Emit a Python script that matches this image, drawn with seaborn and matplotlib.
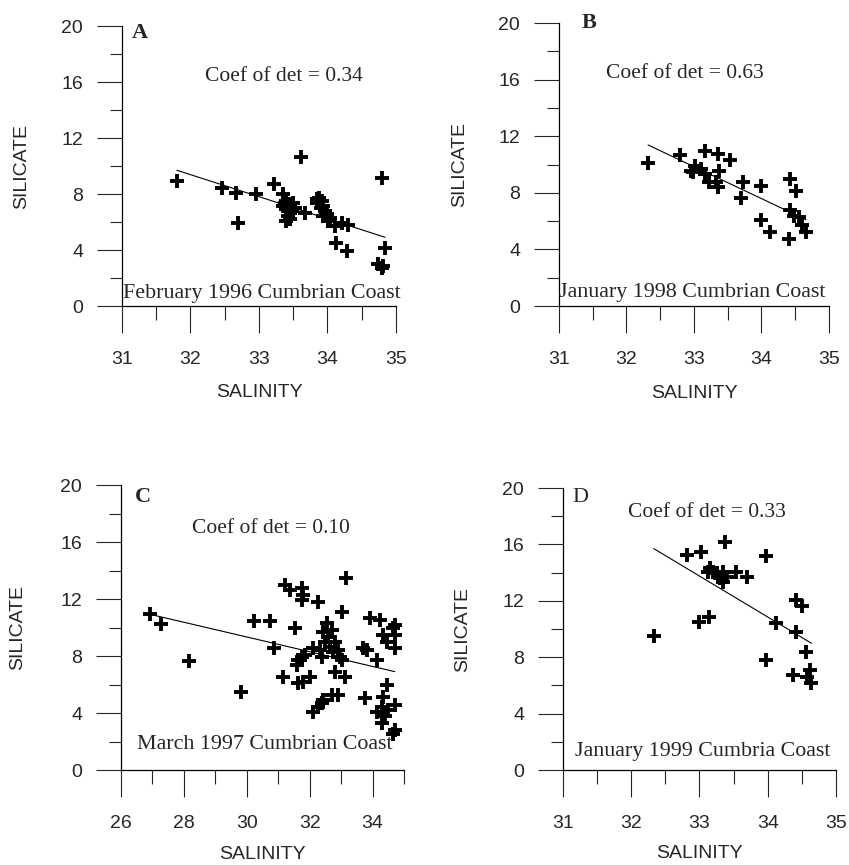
import numpy as np
import pandas as pd
import matplotlib
matplotlib.use('Agg')
import matplotlib.pyplot as plt
import matplotlib.ticker as mtick
import seaborn as sns

########################################################################
# data (salinity vs silicate)
sal_A = [31.80, 32.46, 32.67, 32.70, 32.95, 33.22, 33.35, 33.40, 33.38, 33.45, 33.50, 33.40, 33.48, 33.43,
         33.40, 33.53, 33.35, 33.45, 33.61, 33.67, 33.87, 33.92, 33.84, 33.94, 33.90, 33.96, 33.99, 33.94,
         34.04, 34.01, 33.84, 34.11, 34.21, 34.30, 34.12, 34.29, 34.80, 34.84, 34.74, 34.79, 34.81]
sil_A = [8.93, 8.45, 8.10, 5.95, 7.98, 8.69, 7.98, 7.50, 7.38, 7.26, 7.38, 6.90, 6.79, 6.43,
         6.07, 7.02, 7.14, 6.20, 10.64, 6.67, 7.74, 7.50, 7.38, 7.14, 7.02, 6.79, 6.55, 6.43,
         6.31, 6.07, 7.62, 5.71, 5.95, 5.79, 4.52, 3.93, 9.17, 4.17, 2.98, 2.74, 2.86]

sal_B = [32.32, 32.80, 33.17, 33.36, 33.53, 33.01, 32.95, 33.10, 33.16, 32.99, 33.37, 33.23, 33.36, 33.33,
         33.73, 33.70, 33.99, 34.42, 34.51, 34.42, 34.56, 34.60, 34.66, 33.99, 34.13, 34.41, 34.48]
sil_B = [10.12, 10.64, 10.94, 10.76, 10.35, 9.93, 9.57, 9.69, 9.34, 9.46, 9.57, 8.75, 8.39, 8.75,
         8.75, 7.61, 8.51, 8.98, 8.11, 6.78, 6.26, 5.74, 5.20, 6.08, 5.25, 4.73, 6.38]

sal_C = [26.92, 27.26, 28.16, 29.81, 30.23, 30.74, 30.87, 33.16, 31.22, 31.38, 31.75, 31.80, 31.75, 32.28,
         33.02, 31.53, 33.92, 34.24, 34.71, 34.34, 34.71, 34.45, 34.71, 32.54, 32.44, 32.70, 32.60, 32.81,
         32.65, 32.91, 32.97, 33.02, 32.75, 32.49, 32.12, 32.33, 31.85, 31.64, 31.75, 31.59, 33.71, 33.81,
         34.13, 32.81, 33.13, 31.16, 31.64, 31.80, 32.01, 34.45, 32.91, 32.70, 32.44, 32.28, 32.12, 32.39,
         33.76, 34.34, 34.29, 34.50, 34.71, 34.13, 34.29, 34.71, 34.66, 34.40, 32.40, 34.65]
sil_C = [10.95, 10.25, 7.67, 5.50, 10.48, 10.48, 8.54, 13.45, 12.98, 12.63, 12.75, 12.28, 11.93, 11.81,
         11.11, 9.94, 10.64, 10.53, 10.18, 9.47, 9.47, 9.00, 8.54, 10.29, 9.71, 9.82, 9.36, 9.00,
         8.65, 8.42, 7.95, 7.72, 8.30, 9.00, 8.54, 8.42, 8.07, 7.72, 7.90, 7.37, 8.54, 8.42,
         7.72, 6.90, 6.55, 6.55, 6.08, 6.20, 6.55, 5.96, 5.26, 5.26, 4.91, 4.44, 4.09, 4.68,
         5.03, 5.14, 4.44, 4.20, 4.56, 4.09, 3.27, 2.81, 2.50, 3.80, 7.90, 10.00]

sal_D = [32.33, 32.81, 33.02, 33.38, 33.98, 33.15, 33.20, 33.13, 33.25, 33.35, 33.30, 33.35, 33.40, 33.54,
         33.70, 33.00, 33.14, 34.12, 34.41, 34.50, 34.42, 34.56, 33.98, 34.37, 34.62, 34.64, 34.58]
sil_D = [9.50, 15.25, 15.48, 16.15, 15.20, 14.30, 14.07, 14.07, 13.95, 14.07, 13.60, 13.36, 13.70, 14.07,
         13.71, 10.52, 10.83, 10.40, 12.06, 11.63, 9.81, 8.35, 7.80, 6.74, 7.09, 6.15, 6.60]

letters = ['A', 'B', 'C', 'D']
coef_text = ['Coef of det = 0.34', 'Coef of det = 0.63', 'Coef of det = 0.10', 'Coef of det = 0.33']
survey = ['February 1996 Cumbrian Coast', 'January 1998 Cumbrian Coast',
          'March 1997 Cumbrian Coast', 'January 1999 Cumbria Coast']

########################################################################
sns.set_style('ticks')
plt.rcParams['font.family'] = ['Liberation Sans', 'DejaVu Sans']

fig = plt.figure(figsize=(8.49, 8.65), dpi=100)

# panel boxes (figure fractions)
boxes = [[0.1437, 0.6462, 0.3227, 0.3237],
         [0.6584, 0.6462, 0.3180, 0.3272],
         [0.1425, 0.1098, 0.3333, 0.3295],
         [0.6631, 0.1098, 0.3216, 0.3260]]
xlims = [(31, 35), (31, 35), (26, 35), (31, 35)]
xmaj = [1, 1, 2, 1]
xmin = [0.5, 0.5, 1, 0.5]
xlab_y = [-0.28, -0.28, -0.265, -0.265]
# label positions in axes fraction: letter, coef, survey
pos_letter = [(0.036, 0.975), (0.085, 1.0), (0.049, 0.958), (0.033, 0.968)]
pos_coef = [(0.303, 0.818), (0.174, 0.823), (0.251, 0.849), (0.238, 0.915)]
pos_survey = [(0.004, 0.046), (0.0, 0.049), (0.057, 0.088), (0.044, 0.064)]
letter_bold = [True, True, True, False]

data = [(sal_A, sil_A), (sal_B, sil_B), (sal_C, sil_C), (sal_D, sil_D)]

for i in range(4):
    ax = fig.add_axes(boxes[i])
    df = pd.DataFrame({'salinity': data[i][0], 'silicate': data[i][1]})
    sns.scatterplot(data=df, x='salinity', y='silicate', marker='+', s=100, color='black',
                    linewidth=2.8, ax=ax, zorder=3)
    sns.regplot(data=df, x='salinity', y='silicate', scatter=False, ci=None, truncate=True,
                color='black', line_kws={'lw': 0.8}, ax=ax)

    ax.set_xlim(*xlims[i])
    ax.set_ylim(0, 20)
    ax.xaxis.set_major_locator(mtick.MultipleLocator(xmaj[i]))
    ax.xaxis.set_minor_locator(mtick.MultipleLocator(xmin[i]))
    ax.yaxis.set_major_locator(mtick.MultipleLocator(4))
    ax.yaxis.set_minor_locator(mtick.MultipleLocator(2))
    ax.tick_params(axis='x', which='major', direction='out', length=19.5, width=0.8, pad=13, labelsize=14)
    ax.tick_params(axis='x', which='minor', direction='out', length=10, width=0.8)
    ax.tick_params(axis='y', which='major', direction='out', length=18, width=0.8, pad=10, labelsize=14)
    ax.tick_params(axis='y', which='minor', direction='out', length=9, width=0.8)
    for side in ['top', 'right']:
        ax.spines[side].set_visible(False)
    for side in ['left', 'bottom']:
        ax.spines[side].set_linewidth(0.9)
        ax.spines[side].set_color('black')

    ax.set_xlabel('SALINITY', fontsize=14)
    ax.set_ylabel('SILICATE', fontsize=14)
    ax.xaxis.set_label_coords(0.5, xlab_y[i])
    ax.yaxis.set_label_coords(-0.335, 0.5)

    ax.text(pos_letter[i][0], pos_letter[i][1], letters[i], transform=ax.transAxes,
            family='Liberation Serif', fontsize=16, fontweight='bold' if letter_bold[i] else 'normal',
            va='center', ha='left')
    ax.text(pos_coef[i][0], pos_coef[i][1], coef_text[i], transform=ax.transAxes,
            family='Liberation Serif', fontsize=15.5, va='center', ha='left')
    ax.text(pos_survey[i][0], pos_survey[i][1], survey[i], transform=ax.transAxes,
            family='Liberation Serif', fontsize=15.8, va='center', ha='left')

plt.savefig('out.png', dpi=100)
